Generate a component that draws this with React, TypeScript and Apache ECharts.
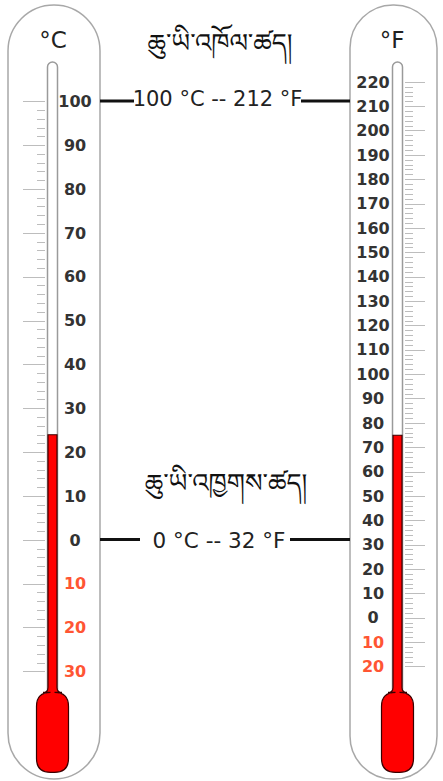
import React, { useEffect, useRef } from "react";
import * as echarts from "echarts";

// ---- data ----
const celsiusLabels = [-30, -20, -10, 0, 10, 20, 30, 40, 50, 60, 70, 80, 90, 100];
const fahrenheitLabels = [
  -20, -10, 0, 10, 20, 30, 40, 50, 60, 70, 80, 90, 100, 110, 120, 130, 140, 150,
  160, 170, 180, 190, 200, 210, 220,
];
const celsiusReading = [24];
const fahrenheitReading = [75];
const boilingText = "100 °C -- 212 °F";
const freezingText = "0 °C -- 32 °F";
const boilingTitle = "ཆུ་ཡི་འཁོལ་ཚད།";
const freezingTitle = "ཆུ་ཡི་འཁྱགས་ཚད།";

// minor ticks every 2 degrees within the labelled range
const minorTicks = (lo: number, hi: number) => {
  const out: number[] = [];
  for (let v = lo; v <= hi; v += 2) out.push(v);
  return out;
};

// ---- layout ----
const W = 443;
const H = 781;
const Y0 = 540; // pixel of 0 °C
const PX = 4.385; // px per °C
const CMIN = -53;
const CMAX = 109;
const toF = (c: number) => c * 1.8 + 32;
const FMIN = toF(CMIN);
const FMAX = toF(CMAX);
const gridTop = Y0 - CMAX * PX;
const gridBottom = H - (Y0 - CMIN * PX);

const RED_LABEL = "#ff5533";
const DARK = "#333333";
const labelFont = { fontFamily: "DejaVu Sans", fontSize: 16, fontWeight: "bold" as const };
const tibetanFont = "'Noto Sans Tibetan', 'Noto Serif Tibetan', Jomolhari, 'DejaVu Sans', sans-serif";

const makeRender = (axisMin: number, axisMax: number) => (params: any, api: any) => {
  const x = api.value(0);
  const top = api.coord([x, api.value(1)]);
  const tubeTop = api.coord([x, axisMax]);
  const base = api.coord([x, axisMin]);
  const cx = top[0];
  const yb = base[1];
  const yt = yb - 80;
  const sw = 4.5;
  const bw = 16;
  const r = 14;
  const f = 5;
  const glass = {
    type: "rect",
    shape: { x: cx - 5, y: tubeTop[1], width: 10, height: yt - tubeTop[1] + 4, r: [5, 5, 0, 0] },
    style: { fill: "#ffffff", stroke: "#9a9a9a", lineWidth: 1.5 },
  };
  const d =
    `M${cx - sw} ${top[1]} L${cx + sw} ${top[1]} L${cx + sw} ${yt - f} ` +
    `Q${cx + sw} ${yt} ${cx + sw + f} ${yt} L${cx + bw - r} ${yt} ` +
    `Q${cx + bw} ${yt} ${cx + bw} ${yt + r} L${cx + bw} ${yb - r} ` +
    `Q${cx + bw} ${yb} ${cx + bw - r} ${yb} L${cx - bw + r} ${yb} ` +
    `Q${cx - bw} ${yb} ${cx - bw} ${yb - r} L${cx - bw} ${yt + r} ` +
    `Q${cx - bw} ${yt} ${cx - bw + r} ${yt} L${cx - sw - f} ${yt} ` +
    `Q${cx - sw} ${yt} ${cx - sw} ${yt - f} Z`;
  return {
    type: "group",
    children: [
      glass,
      { type: "path", shape: { pathData: d }, style: { fill: "#ff0000", stroke: "#3a0000", lineWidth: 1.2 } },
    ],
  };
};

const tickAxis = (
  grid: number,
  position: "left" | "right",
  min: number,
  max: number,
  values: number[],
  length: number
) => ({
  type: "value",
  gridIndex: grid,
  position,
  min,
  max,
  axisLine: { show: false },
  splitLine: { show: false },
  axisLabel: { show: false },
  axisTick: {
    show: true,
    length,
    customValues: values,
    lineStyle: { color: "#bdbdbd", width: 1 },
  },
});

const labelAxis = (
  grid: number,
  position: "left" | "right",
  min: number,
  max: number,
  values: number[],
  margin: number
) => ({
  type: "value",
  gridIndex: grid,
  position,
  min,
  max,
  axisLine: { show: false },
  splitLine: { show: false },
  axisTick: { show: false },
  axisLabel: {
    show: true,
    customValues: values,
    margin,
    align: "center",
    ...labelFont,
    formatter: (v: number) => String(Math.abs(v)),
    color: (v: any) => (Number(v) < 0 ? RED_LABEL : DARK),
  },
});

export default function App() {
  const ref = useRef<HTMLDivElement>(null);
  useEffect(() => {
    if (!ref.current) return;
    const chart = echarts.init(ref.current, null, { renderer: "svg" });
    const option: any = {
      animation: false,
      backgroundColor: "#ffffff",
      grid: [
        { left: 45, width: 15, top: gridTop, bottom: gridBottom },
        { left: 390, width: 15, top: gridTop, bottom: gridBottom },
      ],
      xAxis: [
        { type: "category", gridIndex: 0, data: ["°C"], show: false },
        { type: "category", gridIndex: 1, data: ["°F"], show: false },
      ],
      yAxis: [
        tickAxis(0, "left", CMIN, CMAX, celsiusLabels, 22),
        tickAxis(0, "left", CMIN, CMAX, minorTicks(celsiusLabels[0], celsiusLabels[celsiusLabels.length - 1]), 8),
        labelAxis(0, "right", CMIN, CMAX, celsiusLabels, 15),
        tickAxis(1, "right", FMIN, FMAX, fahrenheitLabels, 20),
        tickAxis(1, "right", FMIN, FMAX, minorTicks(fahrenheitLabels[0], fahrenheitLabels[fahrenheitLabels.length - 1]), 8),
        labelAxis(1, "left", FMIN, FMAX, fahrenheitLabels, 17),
      ],
      series: [
        {
          type: "custom",
          xAxisIndex: 0,
          yAxisIndex: 0,
          z: 5,
          data: celsiusReading.map((v) => [0, v]),
          renderItem: makeRender(CMIN, CMAX),
        },
        {
          type: "custom",
          xAxisIndex: 1,
          yAxisIndex: 3,
          z: 5,
          data: fahrenheitReading.map((v) => [0, v]),
          renderItem: makeRender(FMIN, FMAX),
        },
      ],
      graphic: [
        {
          type: "rect",
          shape: { x: 8, y: 5, width: 92, height: 774, r: 46 },
          style: { fill: "none", stroke: "#a8a8a8", lineWidth: 1.5 },
        },
        {
          type: "rect",
          shape: { x: 350, y: 5, width: 87, height: 774, r: 43 },
          style: { fill: "none", stroke: "#a8a8a8", lineWidth: 1.5 },
        },
        {
          type: "text",
          x: 53,
          y: 40,
          style: { text: "°C", fontFamily: "DejaVu Sans", fontSize: 23, fill: "#222", align: "center", verticalAlign: "middle" },
        },
        {
          type: "text",
          x: 392,
          y: 40,
          style: { text: "°F", fontFamily: "DejaVu Sans", fontSize: 23, fill: "#222", align: "center", verticalAlign: "middle" },
        },
        {
          type: "text",
          x: 220,
          y: 50,
          style: { text: boilingTitle, fontFamily: tibetanFont, fontSize: 26, lineHeight: 28, fill: "#111", align: "center", verticalAlign: "middle" },
        },
        {
          type: "text",
          x: 226,
          y: 490,
          style: { text: freezingTitle, fontFamily: tibetanFont, fontSize: 26, lineHeight: 28, fill: "#111", align: "center", verticalAlign: "middle" },
        },
        { type: "line", shape: { x1: 100, y1: 101, x2: 134, y2: 101 }, style: { stroke: "#111", lineWidth: 3 } },
        { type: "line", shape: { x1: 301, y1: 101, x2: 350, y2: 101 }, style: { stroke: "#111", lineWidth: 3 } },
        { type: "line", shape: { x1: 100, y1: 539.5, x2: 140, y2: 539.5 }, style: { stroke: "#111", lineWidth: 3 } },
        { type: "line", shape: { x1: 290, y1: 539.5, x2: 350, y2: 539.5 }, style: { stroke: "#111", lineWidth: 3 } },
        {
          type: "text",
          x: 217.5,
          y: 99,
          style: { text: boilingText, fontFamily: "DejaVu Sans", fontSize: 21, fill: "#222", align: "center", verticalAlign: "middle" },
        },
        {
          type: "text",
          x: 219,
          y: 540,
          style: { text: freezingText, fontFamily: "DejaVu Sans", fontSize: 21.5, fill: "#222", align: "center", verticalAlign: "middle" },
        },
      ],
    };
    chart.setOption(option);
    return () => chart.dispose();
  }, []);
  return (
    <div
      ref={ref}
      style={{ position: "fixed", left: 0, top: 0, width: W, height: H, background: "#fff" }}
    />
  );
}
